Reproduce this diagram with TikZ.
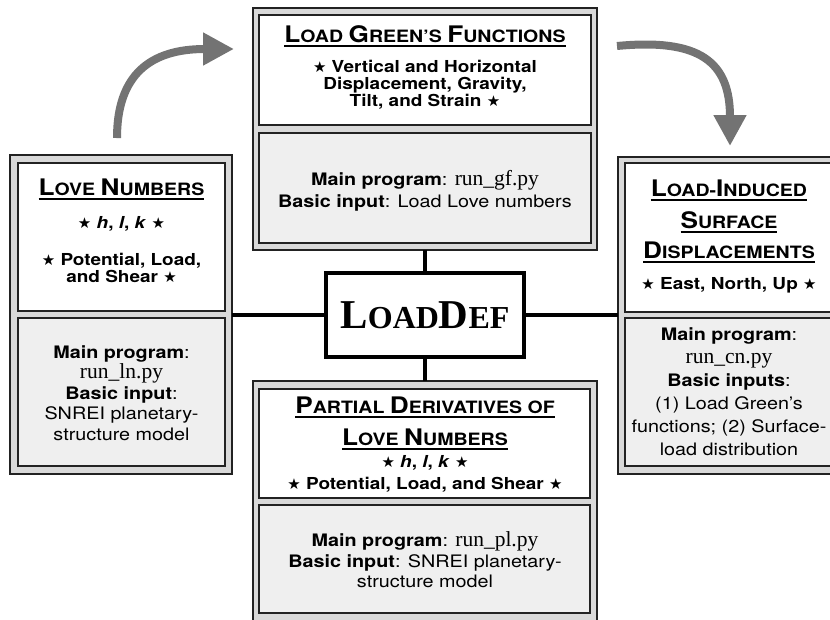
\documentclass[tikz,border=0pt]{standalone}
\usepackage{fontspec}
\setmainfont[FakeStretch=1.15]{TeX Gyre Heros}
\newfontfamily\tms{Liberation Serif}
\newfontfamily\djv{DejaVu Sans}
\usetikzlibrary{arrows.meta}
\definecolor{arrg}{HTML}{737373}
\definecolor{outg}{HTML}{D9D9D9}
\definecolor{ing}{HTML}{EFEFEF}
\definecolor{edge}{HTML}{222222}
\newsavebox\ulbox
\newcommand\ulh[1]{\sbox\ulbox{#1}\rlap{\rule[-5pt]{\wd\ulbox}{1.7pt}}\usebox\ulbox}
\newcommand\hsc[2]{{\fontsize{22.8}{24}\selectfont #1}#2}
\newcommand\st{{\djv\fontsize{15}{15}\selectfont ★}}
\newcommand\hlk{\st{} \textit{h}, \textit{l}, \textit{k} \st}
\newcommand\py[1]{{\tms\fontsize{21.5}{20}\selectfont #1}}
\begin{document}
\begin{tikzpicture}[x=1pt,y=-1pt,
  outerbox/.style={draw=edge, line width=1.6pt, fill=outg, inner sep=0, outer sep=0, anchor=north west},
  whitebox/.style={draw=edge, line width=1.6pt, fill=white, inner sep=0, outer sep=0, anchor=north west},
  graybox/.style={draw=edge, line width=1.6pt, fill=ing, inner sep=0, outer sep=0, anchor=north west},
  hd/.style={font=\bfseries\fontsize{17}{20}\selectfont, inner sep=0, anchor=base},
  bd/.style={font=\bfseries\fontsize{16.5}{17}\selectfont, align=center, inner sep=0},
  gt/.style={font=\fontsize{17.2}{20.5}\selectfont, align=center, inner sep=0},
  centerbox/.style={draw=black, line width=4.5pt, fill=white, minimum width=198pt, minimum height=84pt, inner sep=0},
  link/.style={draw=black, line width=4.5pt},
  bigarrow/.style={draw=arrg, line width=8pt, -{Triangle[length=31pt,width=31pt]}}
]
\useasboundingbox (0,0) rectangle (830,619);
\clip (0,0) rectangle (830,619);

% top box
\node[outerbox, minimum width=344pt, minimum height=242pt] (topO) at (253,8) {};
\node[whitebox, minimum width=332pt, minimum height=110pt] (topW) at (259,15) {};
\node[graybox, minimum width=332pt, minimum height=110pt] (topG) at (259,133) {};
% left box
\node[outerbox, minimum width=222pt, minimum height=319pt] (leftO) at (10,155) {};
\node[whitebox, minimum width=207pt, minimum height=148pt] (leftW) at (18,163) {};
\node[graybox, minimum width=207pt, minimum height=148pt] (leftG) at (18,318) {};
% right box
\node[outerbox, minimum width=230pt, minimum height=317pt] (rightO) at (618,157) {};
\node[whitebox, minimum width=220pt, minimum height=149pt] (rightW) at (625,163) {};
\node[graybox, minimum width=220pt, minimum height=148pt] (rightG) at (625,318) {};
% bottom box
\node[outerbox, minimum width=344pt, minimum height=250pt] (botO) at (253,381) {};
\node[whitebox, minimum width=331pt, minimum height=109pt] (botW) at (259,389) {};
\node[graybox, minimum width=331pt, minimum height=108pt] (botG) at (259,505) {};

% centre
\node[centerbox] (ld) at (425,315) {\tms\bfseries{\fontsize{41}{41}\selectfont L}{\fontsize{32}{32}\selectfont OAD}{\fontsize{41}{41}\selectfont D}{\fontsize{32}{32}\selectfont EF}};

\draw[link] (topO.south) -- (ld.north);
\draw[link] (ld.south) -- (botO.north);
\draw[link] (ld.west) -- (ld.west -| leftO.east);
\draw[link] (ld.east) -- (ld.east -| rightO.west);

% top texts
\node[hd] (tgh) at (425,42) {\ulh{\hsc{L}{OAD} \hsc{G}{REEN’S} \hsc{F}{UNCTIONS}}};
\node[bd] (tgb) at (425,84.5) {\st{} Vertical and Horizontal\\Displacement, Gravity,\\Tilt, and Strain \st};
\node[gt] (tgg) at (425,191) {\textbf{Main program}: \py{run\_gf.py}\\[1pt]\textbf{Basic input}: Load Love numbers};

% left texts
\node[hd] (lnh) at (121.5,195) {\ulh{\hsc{L}{OVE} \hsc{N}{UMBERS}}};
\node[bd, anchor=base] (lnk) at (121.5,228) {\hlk};
\node[bd] (lnb) at (121.5,267.5) {\st{} Potential, Load,\\and Shear \st};
\node[gt] (lng) at (121.5,393) {\textbf{Main program}:\\\py{run\_ln.py}\\\textbf{Basic input}:\\SNREI planetary-\\structure model};

% right texts
\node[hd] (rh1) at (729,196) {\ulh{\hsc{L}{OAD}-\hsc{I}{NDUCED}}};
\node[hd] (rh2) at (729,228) {\ulh{\hsc{S}{URFACE}}};
\node[hd] (rh3) at (729,258) {\ulh{\hsc{D}{ISPLACEMENTS}}};
\node[bd, anchor=base] (rhb) at (729,289) {\st{} East, North, Up \st};
\node[gt, font=\fontsize{17.2}{23}\selectfont] (rhg) at (729,392) {\textbf{Main program}:\\\py{run\_cn.py}\\\textbf{Basic inputs}:\\(1) Load Green’s\\functions; (2) Surface-\\load distribution};

% bottom texts
\node[hd] (bh1) at (425,413) {\ulh{\hsc{P}{ARTIAL} \hsc{D}{ERIVATIVES OF}}};
\node[hd] (bh2) at (425,445) {\ulh{\hsc{L}{OVE} \hsc{N}{UMBERS}}};
\node[bd, anchor=base] (bhk) at (425,467) {\hlk};
\node[bd, anchor=base] (bhb) at (425,489) {\st{} Potential, Load, and Shear \st};
\node[gt] (bhg) at (425,560) {\textbf{Main program}: \py{run\_pl.py}\\\textbf{Basic input}: SNREI planetary-\\structure model};

% arrows
\coordinate (a1s) at (117,138);
\coordinate (a1e) at (234,49);
\coordinate (a2s) at (617,46);
\coordinate (a2e) at (730,146);
\draw[bigarrow] (a1s) .. controls (117,75) and (150,49) .. (a1e);
\draw[bigarrow] (a2s) .. controls (700,38) and (730,62) .. (a2e);
\end{tikzpicture}
\end{document}
